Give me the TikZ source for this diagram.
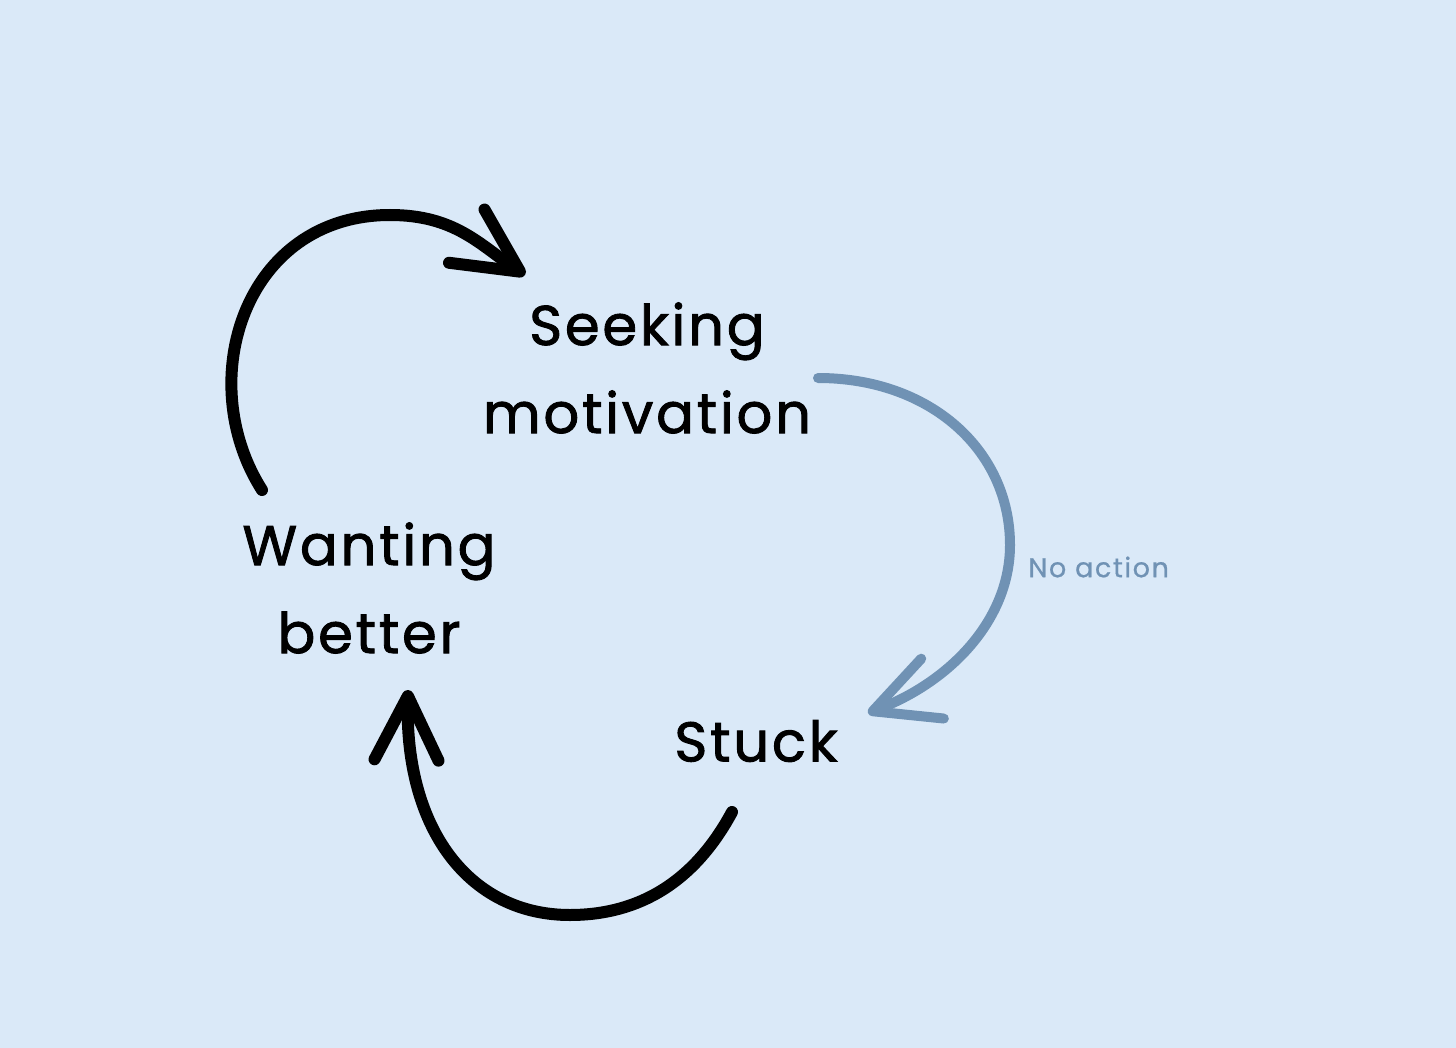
\documentclass[tikz,border=0pt]{standalone}
\usepackage{fontspec}
\setmainfont{Poppins}
\newfontfamily\stagefont{Poppins}[FakeBold=1.6,LetterSpace=5]
\newfontfamily\lblfont{Poppins}[FakeBold=0.8,LetterSpace=6]
\usetikzlibrary{positioning,arrows.meta}
\definecolor{cybg}{HTML}{DAE9F8}
\definecolor{cyblue}{HTML}{7092B4}
\tikzset{
  stage/.style ={align=center, inner sep=0pt, text=black,
                 font=\stagefont\fontsize{28}{44}\selectfont},
  loop/.style  ={-{Straight Barb[round,length=32pt,width=32pt]}, line width=6pt,
                 draw=black, line cap=round},
  loopb/.style ={loop, draw=cyblue, line width=5pt},
  lbl/.style   ={font=\lblfont\fontsize{13.5}{16}\selectfont, text=cyblue, inner sep=0pt}
}
\begin{document}
\begin{tikzpicture}[x=0.5pt, y=-0.5pt]
  \fill[cybg] (0,0) rectangle (1456,1048);
  \useasboundingbox (0,0) rectangle (1456,1048);

  \node[stage] (seek)  at (647,368) {Seeking\\motivation};
  \node[stage] (want)  at (369,588) {Wanting\\better};
  \node[stage] (stuck) at (756,741) {Stuck};

  % arc end points
  \coordinate (w1) at (262,490);  \coordinate (s1) at (525,275);
  \coordinate (s2) at (818,378);  \coordinate (k1) at (868,713);
  \coordinate (k2) at (732,812);  \coordinate (w2) at (408,690);
  \coordinate (bx) at (1010,545);

  \draw[loop] (w1) .. controls (192,380) and (245,215) .. (390,215)
                   .. controls (455,215) and (480,245) .. (s1);
  \draw[loopb] (s2) .. controls (930,378) and (bx |- 0,450) .. (bx)
                    .. controls (1010,620) and (950,682) .. (k1);
  \draw[loop] (k2) .. controls (690,890) and (630,915) .. (570,915)
                   .. controls (470,915) and (405,830) .. (w2);

  \node[lbl,right=9pt of bx,yshift=-11pt] (noact) {No action};
\end{tikzpicture}
\end{document}
